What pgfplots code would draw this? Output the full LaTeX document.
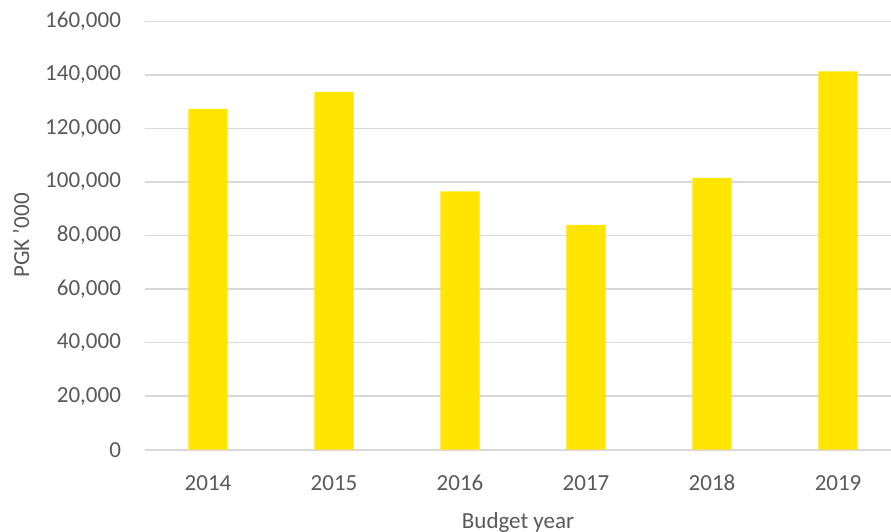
\documentclass[border=0pt]{standalone}
\usepackage{pgfplots}
\pgfplotsset{compat=1.18}
\usepackage{fontspec}
\setmainfont{Carlito}
\definecolor{barYellow}{HTML}{FFE500}
\definecolor{gridGray}{HTML}{D9D9D9}
\definecolor{txtGray}{HTML}{595959}
\begin{document}
\fontsize{11.5}{13.8}\selectfont
\begin{tikzpicture}
\useasboundingbox (-72.5pt,-41pt) rectangle (373pt,224.85pt);
\begin{axis}[
  at={(0,0)}, anchor=south west,
  scale only axis,
  width=373pt, height=214.2pt,
  xmin=-0.5, xmax=5.42,
  ymin=0, ymax=160000,
  scaled y ticks=false,
  ytick={0,20000,40000,60000,80000,100000,120000,140000,160000},
  yticklabels={0,{20,000},{40,000},{60,000},{80,000},{100,000},{120,000},{140,000},{160,000}},
  xtick={0,1,2,3,4,5},
  xticklabels={2014,2015,2016,2017,2018,2019},
  axis line style={draw=none},
  major tick length=0pt,
  ymajorgrids=true,
  grid style={gridGray, line width=0.8pt},
  tick label style={txtGray, font=\fontsize{11.5}{13.8}\selectfont},
  yticklabel style={xshift=-8pt},
  xticklabel style={yshift=-7.5pt, text height=1.6ex, text depth=0.2ex},
  xlabel={Budget year},
  ylabel={PGK '000},
  label style={txtGray, font=\fontsize{11.5}{13.8}\selectfont},
  xlabel style={at={(axis description cs:0.5,0)}, anchor=center, yshift=-36.5pt},
  ylabel style={at={(axis description cs:0,0.5)}, anchor=center, rotate=0, yshift=62pt},
  clip=false,
]
\addplot[ybar, bar width=19.65pt, fill=barYellow, draw=none] coordinates {
  (0,127300) (1,133600) (2,96500) (3,84000) (4,101500) (5,141300)
};
\end{axis}
\end{tikzpicture}
\end{document}
